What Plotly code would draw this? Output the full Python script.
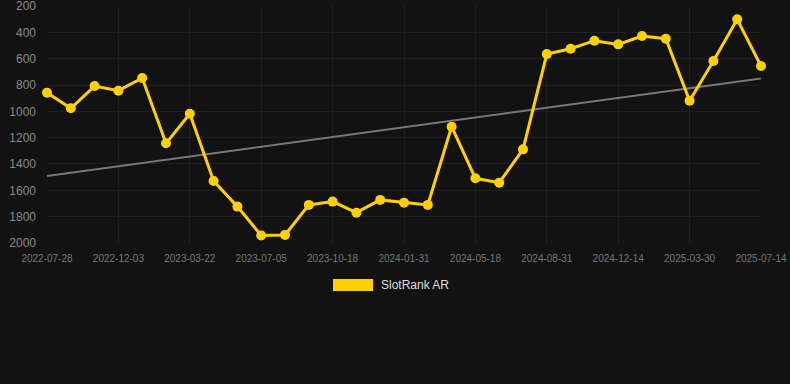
import numpy as np
import plotly.graph_objects as go

dates = [
    "2022-07-28", "2022-09-09", "2022-10-22", "2022-12-03", "2023-01-08", "2023-02-13",
    "2023-03-22", "2023-04-26", "2023-05-31", "2023-07-05", "2023-08-09", "2023-09-13",
    "2023-10-18", "2023-11-22", "2023-12-27", "2024-01-31", "2024-03-06", "2024-04-12",
    "2024-05-18", "2024-06-21", "2024-07-26", "2024-08-31", "2024-10-05", "2024-11-09",
    "2024-12-14", "2025-01-18", "2025-02-22", "2025-03-30", "2025-05-04", "2025-06-08",
    "2025-07-14",
]
rank = [858, 977, 808, 843, 747, 1243, 1018, 1529, 1724, 1944, 1939, 1711, 1686, 1770,
        1673, 1694, 1711, 1117, 1509, 1542, 1289, 565, 524, 463, 491, 428, 448, 919,
        618, 301, 656]
tick_dates = dates[::3]
y_ticks = [200, 400, 600, 800, 1000, 1200, 1400, 1600, 1800, 2000]
series_name = "SlotRank AR"

idx = np.arange(len(rank))
slope, intercept = np.polyfit(idx, rank, 1)
trend = slope * idx + intercept

BG = "#121212"
YELLOW = "#FFD000"

fig = go.Figure()
fig.add_trace(go.Scatter(
    x=dates, y=trend, mode="lines",
    line=dict(color="#777777", width=2),
    hoverinfo="skip", showlegend=False,
))
fig.add_trace(go.Scatter(
    x=dates, y=rank, mode="lines+markers", name=series_name,
    line=dict(color=YELLOW, width=3),
    marker=dict(color=YELLOW, size=10),
    cliponaxis=False, showlegend=False,
))

# legend drawn manually (wide colour swatch)
fig.add_shape(type="rect", xref="paper", yref="paper",
              x0=(333 - 47) / 714, x1=(373 - 47) / 714,
              y0=(243 - 291) / 237, y1=(243 - 279) / 237,
              fillcolor=YELLOW, line=dict(width=0))
fig.add_annotation(text=series_name, xref="paper", yref="paper",
                   x=(379 - 47) / 714, y=(243 - 285) / 237,
                   xanchor="left", yanchor="middle", showarrow=False,
                   font=dict(family="Liberation Sans, Arial", size=12, color="#dddddd"))

fig.update_layout(
    width=790, height=384,
    margin=dict(l=47, r=29, t=6, b=141, autoexpand=False),
    paper_bgcolor=BG, plot_bgcolor=BG,
    font=dict(family="Liberation Sans, Arial", color="#888888"),
    showlegend=False,
)
fig.update_xaxes(
    type="category", range=[0, len(dates) - 1], automargin=False,
    tickvals=tick_dates, ticktext=tick_dates,
    tickfont=dict(size=10, color="#777777"),
    showgrid=True, gridcolor="#1f1f1f", gridwidth=1,
    zeroline=False, showline=False, ticks="", ticklabelstandoff=8,
    ticklabeloverflow="allow",
)
fig.update_yaxes(
    range=[2000.5, 199.5], tickvals=y_ticks, automargin=False,
    tickfont=dict(size=12, color="#888888"),
    showgrid=True, gridcolor="#1f1f1f", gridwidth=1,
    zeroline=False, showline=False, ticks="", ticklabelstandoff=10,
    ticklabeloverflow="allow",
)

fig.write_html("out.html")
